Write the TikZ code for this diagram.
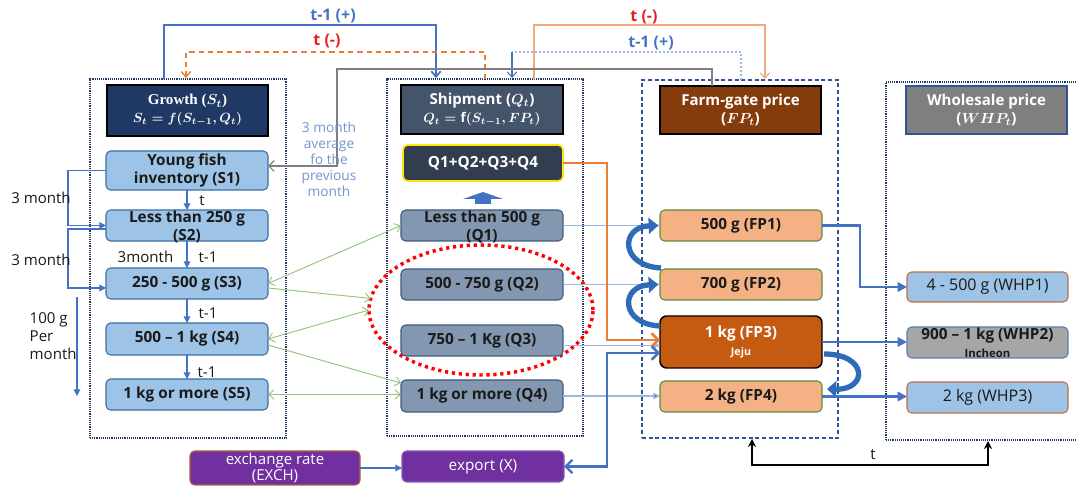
\documentclass[tikz,border=0pt]{standalone}
\usepackage{fontspec}
\setmainfont{Open Sans}
\newfontfamily\serifbf{Liberation Serif}
\usetikzlibrary{arrows.meta,shapes.geometric,calc}
\definecolor{navy}{HTML}{1F3864}
\definecolor{ghfill}{HTML}{203864}
\definecolor{shfill}{HTML}{44546A}
\definecolor{fhfill}{HTML}{843C0C}
\definecolor{whfill}{HTML}{7F7F7F}
\definecolor{pblue}{HTML}{2F5597}
\definecolor{sbord}{HTML}{3B6EA5}
\definecolor{sfill}{HTML}{9DC3E6}
\definecolor{qfill}{HTML}{8497B0}
\definecolor{qbord}{HTML}{3D5A80}
\definecolor{qsfill}{HTML}{323E4F}
\definecolor{qsbord}{HTML}{FFE800}
\definecolor{ffill}{HTML}{F4B183}
\definecolor{fbord}{HTML}{5E8A3A}
\definecolor{fpthree}{HTML}{C55A11}
\definecolor{wbord}{HTML}{C07040}
\definecolor{wtwofill}{HTML}{A6A6A6}
\definecolor{wtwobord}{HTML}{5A7DB5}
\definecolor{purp}{HTML}{7030A0}
\definecolor{exbord}{HTML}{B0603A}
\definecolor{xbord}{HTML}{8A5AB8}
\definecolor{cblue}{HTML}{4472C4}
\definecolor{cbluetwo}{HTML}{2E6BB8}
\definecolor{gline}{HTML}{93C47D}
\definecolor{lbline}{HTML}{9DB9E0}
\definecolor{corange}{HTML}{ED7D31}
\definecolor{lorange}{HTML}{F2A878}
\definecolor{lred}{HTML}{E81E1E}
\definecolor{txtblue}{HTML}{7394D0}
\definecolor{ggray}{HTML}{7F7F7F}
\definecolor{boxtxt}{HTML}{1A1A1A}
\begin{document}
\begin{tikzpicture}[x=0.75pt,y=-0.75pt,
  sz/.style 2 args={minimum width={#1*0.75pt},minimum height={#2*0.75pt},inner sep=0pt,outer sep=0pt},
  boxfont/.style={font=\bfseries\fontsize{11.5}{13.5}\selectfont},
  sbox/.style={draw=sbord,fill=sfill,rounded corners=3.5pt,line width=0.8pt,boxfont,align=center,text=boxtxt},
  qbox/.style={draw=qbord,fill=qfill,rounded corners=3.5pt,line width=0.8pt,boxfont,align=center,text=boxtxt},
  fbox/.style={draw=fbord,fill=ffill,rounded corners=3.5pt,line width=0.8pt,boxfont,align=center,text=boxtxt},
  wbox/.style={draw=wbord,fill=sfill,rounded corners=3.5pt,line width=0.8pt,font=\fontsize{12}{13.5}\selectfont,align=center,text=boxtxt},
  hdr/.style={draw=black,line width=0.8pt,text=white,align=center,font=\bfseries\boldmath\fontsize{11.3}{13.5}\selectfont},
  inlbl/.style={align=center,boxfont,text=boxtxt},
  pdot/.style={draw=navy,line width=0.9pt,dash pattern=on 0.7pt off 0.7pt},
  pdash/.style={draw=pblue,line width=0.9pt,dash pattern=on 3pt off 2pt},
  arrtri/.style={-{Triangle[length=5pt,width=5pt]}},
  arrbarb/.style={-{Straight Barb[length=4pt,width=7pt]}},
  arrbarbb/.style={{Straight Barb[length=4pt,width=7pt]}-{Straight Barb[length=4pt,width=7pt]}},
  glin/.style={draw=gline,line width=0.7pt},
  plain/.style={font=\fontsize{11.3}{13.5}\selectfont,text=boxtxt},
  toplbl/.style={font=\bfseries\fontsize{12}{13}\selectfont},
  curv/.style={draw=cbluetwo,line width=4pt,-{Triangle[length=7pt,width=12pt]}}
]
\useasboundingbox (0,0) rectangle (1076,488);

% panels
\node[pdot,sz={196}{359}] (PG) at (188,258.5) {};
\node[pdot,sz={196}{357}] (PS) at (485,257.5) {};
\node[pdash,sz={196}{358}] (PF) at (740,259) {};
\node[pdot,sz={194}{358}] (PW) at (983,261) {};

% red ellipse
\node[draw=red,ellipse,line width=2.6pt,dash pattern=on 2.4pt off 2.8pt,sz={224}{130}] (E) at (481,310) {};

% headers
\node[hdr,fill=ghfill,sz={161}{51}] (GH) at (187.5,110.5) {{\serifbf Growth ($S_t$)}\\{\fontsize{10}{12}\selectfont $S_t = f(S_{t-1},Q_t)$}};
\node[hdr,fill=shfill,sz={162}{49}] (SH) at (482,109.5) {Shipment ($Q_t$)\\{\fontsize{10}{12}\selectfont $Q_t=\mathrm{f}(S_{t-1},FP_t)$}};
\node[hdr,fill=fhfill,sz={161}{48}] (FH) at (740.5,110) {Farm-gate price\\($FP_t$)};
\node[hdr,draw=pblue,fill=whfill,sz={161}{48}] (WH) at (986.5,110) {Wholesale price\\($WHP_t$)};

% growth boxes
\node[sbox,sz={162}{39}] (S1) at (187,170.5) {};
\node[inlbl] (S1t) at (S1.center) {Young fish\\inventory (S1)};
\node[sbox,sz={162}{31}] (S2) at (187,225.5) {};
\node[inlbl] (S2t) at ($(S2.center)+(0,1)$) {Less than 250 g\\(S2)};
\node[sbox,sz={162}{31}] (S3) at (187,283.5) {250 - 500 g (S3)};
\node[sbox,sz={162}{32}] (S4) at (187,339) {500 – 1 kg (S4)};
\node[sbox,sz={162}{31}] (S5) at (187,394.5) {1 kg or more (S5)};

% shipment boxes
\node[draw=qsbord,fill=qsfill,rounded corners=3.5pt,line width=1.3pt,boxfont,text=white,sz={160}{36}] (QS) at (483,163) {Q1+Q2+Q3+Q4};
\fill[cblue] (463,199) -- (483,192) -- (503,199) -- (491,199) -- (491,204) -- (475,204) -- (475,199) -- cycle;
\node[qbox,sz={162}{31}] (Q1) at (482,225.5) {};
\node[inlbl] (Q1t) at ($(Q1.center)+(0,1)$) {Less than 500 g\\(Q1)};
\node[qbox,sz={162}{31}] (Q2) at (482,284.5) {500 - 750 g (Q2)};
\node[qbox,sz={162}{31}] (Q3) at (482,340.5) {750 – 1 Kg (Q3)};
\node[qbox,sz={162}{32}] (Q4) at (482,396) {1 kg or more (Q4)};

% export / exchange
\node[draw=xbord,fill=purp,rounded corners=3.5pt,line width=0.8pt,sz={162}{31},text=white,font=\fontsize{11.5}{13}\selectfont] (X) at (483,466.5) {export (X)};
\node[draw=exbord,fill=purp,rounded corners=3.5pt,line width=0.8pt,sz={170}{34},text=white,font=\fontsize{11.3}{12.5}\selectfont,align=center] (EX) at (275,468) {exchange rate\\(EXCH)};

% farm-gate boxes
\node[fbox,sz={162}{31}] (FP1) at (741,225.5) {500 g (FP1)};
\node[fbox,sz={162}{31}] (FP2) at (741,284.5) {700 g (FP2)};
\node[draw=black,fill=fpthree,rounded corners=5pt,line width=1.1pt,sz={162}{52},text=white,align=center,boxfont] (FP3) at (741,342) {1 kg (FP3)\\{\fontsize{8}{9}\selectfont Jeju}};
\node[fbox,sz={162}{31}] (FP4) at (741,396.5) {2 kg (FP4)};

% wholesale boxes
\node[wbox,sz={161}{30}] (W1) at (987.5,287) {4 - 500 g (WHP1)};
\node[draw=wtwobord,fill=wtwofill,rounded corners=3.5pt,line width=0.8pt,sz={161}{31},align=center,boxfont,text=boxtxt] (W2) at (987.5,342.5) {900 – 1 kg (WHP2)\\{\fontsize{8.5}{8}\selectfont Incheon}};
\node[wbox,sz={161}{31}] (W3) at (987.5,397.5) {2 kg (WHP3)};

% ---- top connectors
\coordinate (tA) at (164,79);
\coordinate (tAe) at (436,78);
\draw[cblue,line width=1.3pt,arrbarb] (tA) -- ++(0,-54) -| (tAe);
\node[toplbl,text=cblue] (lA) at (333,16) {t-1 (+)};

\coordinate (tB) at (485,79);
\coordinate (tBe) at (186,78);
\draw[corange,line width=1.1pt,dash pattern=on 4pt off 3pt,arrbarb] (tB) -- ++(0,-27) -| (tBe);
\node[toplbl,text=lred] (lB) at (327,41) {t (-)};

\coordinate (tC) at (534,79);
\coordinate (tCe) at (765,79);
\draw[lorange,line width=0.9pt,arrbarb] (tC) -- ++(0,-54) -| (tCe);
\node[toplbl,text=lred] (lC) at (644,17) {t (-)};

\coordinate (tD) at (741,80);
\coordinate (tDm) at (512,52);
\coordinate (tDe) at (512,78);
\draw[lbline,line width=0.9pt,dash pattern=on 1.5pt off 1.5pt] (tD) |- (tDm);
\draw[cblue,line width=0.8pt,arrbarb] (tDm) -- (tDe);
\node[toplbl,text=cblue] (lD) at (651,43) {t-1 (+)};

% gray 3-month average line
\coordinate (g0) at (712,86);
\coordinate (g1) at (712,69);
\coordinate (g2) at (337,69);
\coordinate (g3) at (337,166);
\draw[ggray,line width=0.9pt,-{Straight Barb[length=4pt,width=8pt]}] (g0) -- (g1) -- (g2) -- (g3) -- (g3 -| S1.east);
\node[align=center,text=txtblue,font=\fontsize{10.3}{12}\selectfont] (avg) at (329,159) {3 month\\average\\fo the\\previous\\month};

% left side loops
\draw[cblue,line width=0.8pt,arrtri] (S1.west) -- ++(-38,0) |- (S2.west);
\draw[cblue,line width=0.8pt,arrtri] ($(S2.west)+(0,3.5)$) -- ++(-38,0) |- ($(S3.west)+(0,4.5)$);
\node[plain] (mA) at (41,198) {3 month};
\node[plain] (mB) at (41,260) {3 month};
\coordinate (mC) at (77,297);
\coordinate (mD) at (77,396);
\draw[cblue,line width=0.8pt,arrtri] (mC) -- (mD);
\node[plain,align=left,anchor=west] (hg) at (25,336) {100 g\\Per\\month};

% growth internal
\draw[cblue,line width=0.8pt,arrtri] (S1.south) -- (S2.north);
\draw[cblue,line width=0.8pt,arrtri] (S2.south) -- (S3.north);
\draw[cblue,line width=0.8pt,arrtri] (S3.south) -- (S4.north);
\draw[cblue,line width=0.8pt,arrtri] (S4.south) -- (S5.north);
\node[plain] (lt1) at (202,201) {t};
\node[plain,anchor=east] (lt2) at (178,257) {3month};
\node[plain] (lt3) at (208,257) {t-1};
\node[plain] (lt4) at (208,313) {t-1};
\node[plain] (lt5) at (207,372) {t-1};

% green arrows
\draw[glin,arrbarbb] (S3.east) -- (Q1.west);
\draw[glin,arrbarb] ($(S3.east)+(0,4.5)$) -- (E.174);
\draw[glin,arrbarbb] (S4.east) -- (E.west);
\draw[glin,arrbarb] ($(S4.east)+(0,6)$) -- ($(Q4.west)+(0,-13)$);
\draw[glin,arrbarbb] (S5.east) -- (S5.east -| Q4.west);

% shipment -> farm-gate thin lines
\draw[lbline,line width=0.9pt,arrtri] (Q1.east) -- (Q1.east -| FP1.west);
\draw[lbline,line width=0.9pt,arrtri] (Q2.east) -- (Q2.east -| FP2.west);
\coordinate (qthree) at ($(Q3.east)+(0,5)$);
\draw[lbline,line width=0.9pt,arrtri] (qthree) -- (qthree -| FP3.west);
\draw[lbline,line width=0.9pt,-{Triangle[length=5pt,width=5pt,fill=cblue]}] (Q4.east) -- (Q4.east -| FP4.west);

% orange sum -> FP3
\draw[corange,line width=1.9pt,-{Straight Barb[length=5pt,width=10pt]}] (QS.east) -- ++(44,0) |- ($(FP3.west)+(0,-2)$);
% export <-> FP3
\draw[cblue,line width=1.8pt,{Straight Barb[length=5pt,width=10pt]}-{Straight Barb[length=5pt,width=10pt]}] (X.east) -- ++(43,0) |- ($(FP3.west)+(0,11)$);
% exchange -> export
\draw[cblue,line width=0.8pt,arrtri] (EX.east) -- (EX.east -| X.west);

% curved block arrows
\draw[curv] ($(FP2.north west)+(1,-1)$) .. controls (620,266) and (620,227) .. ($(FP1.west)+(-2,0)$);
\draw[curv] ($(FP3.north west)+(0,10)$) .. controls (620,324) and (620,286) .. ($(FP2.west)+(-2,0)$);
\draw[curv] ($(FP3.south east)+(2,-14)$) .. controls (868,354) and (868,390) .. ($(FP4.north east)+(5,8)$);

% farm-gate -> wholesale
\draw[cblue,line width=2pt,-{Triangle[length=7pt,width=7pt]}] (FP1.east) -- ++(38,0) |- (W1.west);
\draw[cblue,line width=1.6pt,-{Triangle[length=7pt,width=7pt]}] (FP3.east) -- (FP3.east -| W2.west);
\draw[cblue,line width=1.6pt,-{Triangle[length=7pt,width=7pt]}] (FP4.east) -- (FP4.east -| W3.west);

% bottom t
\coordinate (bA) at (752,439);
\coordinate (bB) at (988,441);
\draw[black,line width=1.3pt,{Stealth[length=6pt,width=6pt]}-{Stealth[length=6pt,width=6pt]}] (bA) -- ++(0,26) -| (bB);
\node[plain] (ltb) at (873,455) {t};
\end{tikzpicture}
\end{document}
